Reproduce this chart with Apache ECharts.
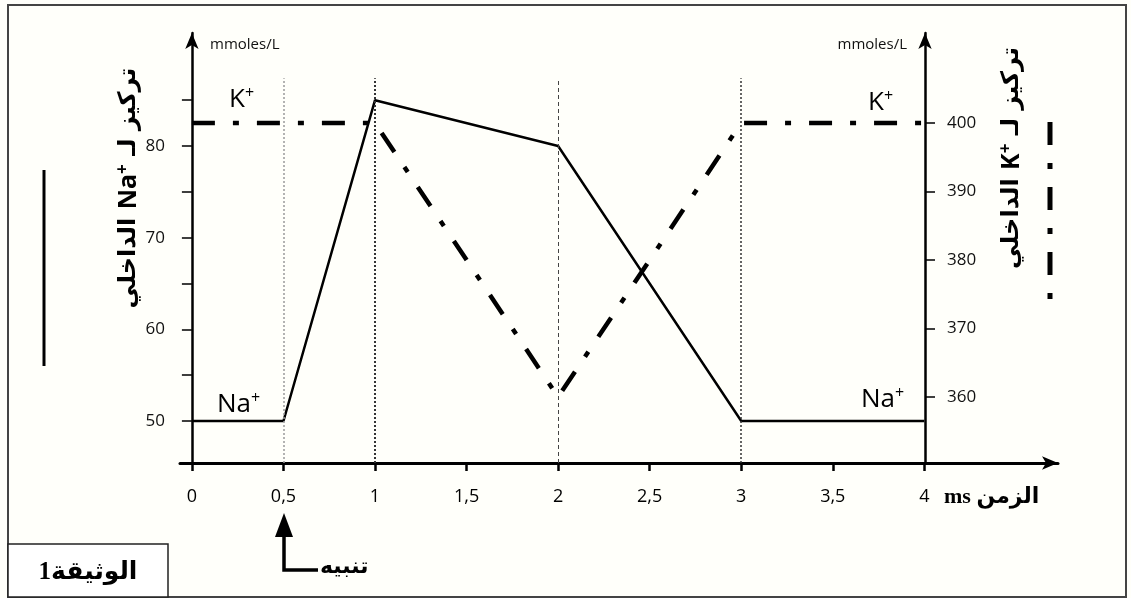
<!DOCTYPE html>
<html>
<head>
<meta charset="utf-8">
<script src="https://cdn.jsdelivr.net/npm/echarts@6/dist/echarts.min.js"></script>
<style>
  html, body { margin: 0; padding: 0; background: #fffffa; }
  #chart { width: 1131px; height: 598px; }
</style>
</head>
<body>
<div id="chart"></div>
<script>
const timeMs = [0, 0.5, 1, 2, 3, 4];
const naValues = [50, 50, 85, 80, 50, 50];     // mmoles/L, left axis
const kValues = [400, 400, 400, 360, 400, 400]; // mmoles/L, right axis
const guideTimes = [0.5, 1, 2, 3];
const xTicks = [0, 0.5, 1, 1.5, 2, 2.5, 3, 3.5, 4];
const naTicks = [50, 55, 60, 65, 70, 75, 80, 85];
const naLabels = [50, 60, 70, 80];
const kTicks = [360, 370, 380, 390, 400];

const FONT = '"Open Sans", "Noto Sans", sans-serif';
const AR = '"DejaVu Sans", sans-serif';

const chart = echarts.init(document.getElementById('chart'), null, { renderer: 'canvas' });

// vertical guides, each with its own look
const guideStyles = [
  { color: '#9a9a9a', width: 1.5, type: [2, 2] },
  { color: '#333', width: 2, type: [2, 2] },
  { color: '#444', width: 1, type: [4, 3] },
  { color: '#333', width: 1.5, type: [2, 2] }
];
const guideData = guideTimes.map((t, i) => [
  { coord: [t, 45.42], lineStyle: guideStyles[i] },
  { coord: [t, 87.4] }
]);

const axisLine = { show: true, lineStyle: { color: '#000', width: 2.5 } };

function supLabel(base, size) {
  return {
    text: '{b|' + base + '}{s|+}', verticalAlign: 'middle',
    rich: {
      b: { font: size + 'px ' + FONT, fill: '#000' },
      s: { font: '16px ' + FONT, fill: '#000', padding: [0, 0, 13, 0] }
    }
  };
}

function axisName(ion) {
  return {
    text: '{t|الداخلي }{b|' + ion + '}{s|+}{t| تركيز لـ}',
    align: 'center', verticalAlign: 'middle',
    rich: {
      t: { font: 'bold 24px ' + AR, fill: '#000' },
      b: { font: 'bold 25px ' + FONT, fill: '#000' },
      s: { font: 'bold 17px ' + FONT, fill: '#000', padding: [0, 0, 12, 0] }
    }
  };
}

chart.setOption({
  animation: false,
  backgroundColor: '#fffffa',
  grid: { left: 180, right: 73, top: 33, bottom: 135 },
  xAxis: {
    type: 'value',
    min: -0.065,
    max: 4.73,
    axisLine: { show: true, onZero: false, symbol: ['none', 'arrow'], symbolSize: [10, 16],
      lineStyle: { color: '#000', width: 3 } },
    axisTick: { show: true, customValues: xTicks, length: 8, lineStyle: { color: '#000', width: 2.5 } },
    axisLabel: {
      customValues: xTicks, margin: 25, color: '#000', fontSize: 18, fontFamily: FONT,
      formatter: v => String(v).replace('.', ',')
    },
    splitLine: { show: false }
  },
  yAxis: [
    {
      type: 'value',
      min: 45.42,
      max: 92.33,
      axisLine: Object.assign({}, axisLine, { onZero: true, symbol: ['none', 'arrow'], symbolSize: [10, 16] }),
      axisTick: { show: true, customValues: naTicks, length: 10, lineStyle: { color: '#000', width: 1.5 } },
      axisLabel: { customValues: naLabels, margin: 15, color: '#111', fontSize: 17, fontFamily: FONT },
      splitLine: { show: false }
    },
    {
      type: 'value',
      position: 'right',
      offset: -133,
      min: 350.36,
      max: 413.14,
      axisLine: Object.assign({}, axisLine, { onZero: false, symbol: ['none', 'arrow'], symbolSize: [10, 16] }),
      axisTick: { show: true, customValues: kTicks, length: 10, lineStyle: { color: '#000', width: 1.5 } },
      axisLabel: { customValues: kTicks, margin: 22, color: '#111', fontSize: 17, fontFamily: FONT },
      splitLine: { show: false }
    }
  ],
  series: [
    {
      name: 'Na+',
      type: 'line',
      yAxisIndex: 0,
      data: timeMs.map((t, i) => [t, naValues[i]]),
      symbol: 'none',
      lineStyle: { color: '#000', width: 2.5 },
      markLine: { silent: true, symbol: ['none', 'none'], label: { show: false }, data: guideData },
      z: 3
    },
    {
      name: 'K+',
      type: 'line',
      yAxisIndex: 1,
      data: timeMs.map((t, i) => [t, kValues[i]]),
      symbol: 'none',
      lineStyle: { color: '#000', width: 4.5, type: [23, 18, 6, 18] },
      z: 2
    }
  ],
  graphic: [
    // outer frame
    { type: 'rect', shape: { x: 8, y: 5, width: 1118, height: 592 },
      style: { fill: null, stroke: '#444', lineWidth: 2 } },
    // document box
    { type: 'rect', shape: { x: 8, y: 544, width: 160, height: 53 },
      style: { fill: '#fff', stroke: '#222', lineWidth: 1.5 } },
    { type: 'text', x: 88, y: 573,
      style: { text: 'الوثيقة1', font: 'bold 25px "Liberation Serif", ' + AR, fill: '#000',
        align: 'center', verticalAlign: 'middle' } },
    // stimulus arrow
    { type: 'polyline', shape: { points: [[284, 534], [284, 570], [318, 570]] },
      style: { stroke: '#000', lineWidth: 3.5, fill: null } },
    { type: 'polygon', shape: { points: [[284, 513], [275, 537], [293, 537]] },
      style: { fill: '#000' } },
    { type: 'text', x: 320, y: 567,
      style: { text: 'تنبيه', font: 'bold 22px ' + AR, fill: '#000', align: 'left', verticalAlign: 'middle' } },
    // axis units
    { type: 'text', x: 210, y: 45,
      style: { text: 'mmoles/L', font: '15px ' + FONT, fill: '#111', verticalAlign: 'middle' } },
    { type: 'text', x: 907, y: 45,
      style: { text: 'mmoles/L', font: '15px ' + FONT, fill: '#111', align: 'right', verticalAlign: 'middle' } },
    // x axis name
    { type: 'text', x: 944, y: 497,
      style: { text: 'ms الزمن', font: 'bold 22px "Liberation Serif", ' + AR, fill: '#000', verticalAlign: 'middle' } },
    // rotated axis names
    { type: 'text', x: 129, y: 188, rotation: Math.PI / 2, style: axisName('Na') },
    { type: 'text', x: 1012, y: 158, rotation: Math.PI / 2, style: axisName('K') },
    // legend keys
    { type: 'line', shape: { x1: 44, y1: 170, x2: 44, y2: 366 },
      style: { stroke: '#000', lineWidth: 3 } },
    { type: 'line', shape: { x1: 1050, y1: 122, x2: 1050, y2: 302 },
      style: { stroke: '#000', lineWidth: 5, lineDash: [23, 18, 6, 18] } },
    // series labels
    { type: 'text', x: 229, y: 100, style: supLabel('K', 26) },
    { type: 'text', x: 868, y: 103, style: supLabel('K', 26) },
    { type: 'text', x: 217, y: 405, style: supLabel('Na', 26) },
    { type: 'text', x: 861, y: 400, style: supLabel('Na', 26) }
  ]
});
</script>
</body>
</html>
